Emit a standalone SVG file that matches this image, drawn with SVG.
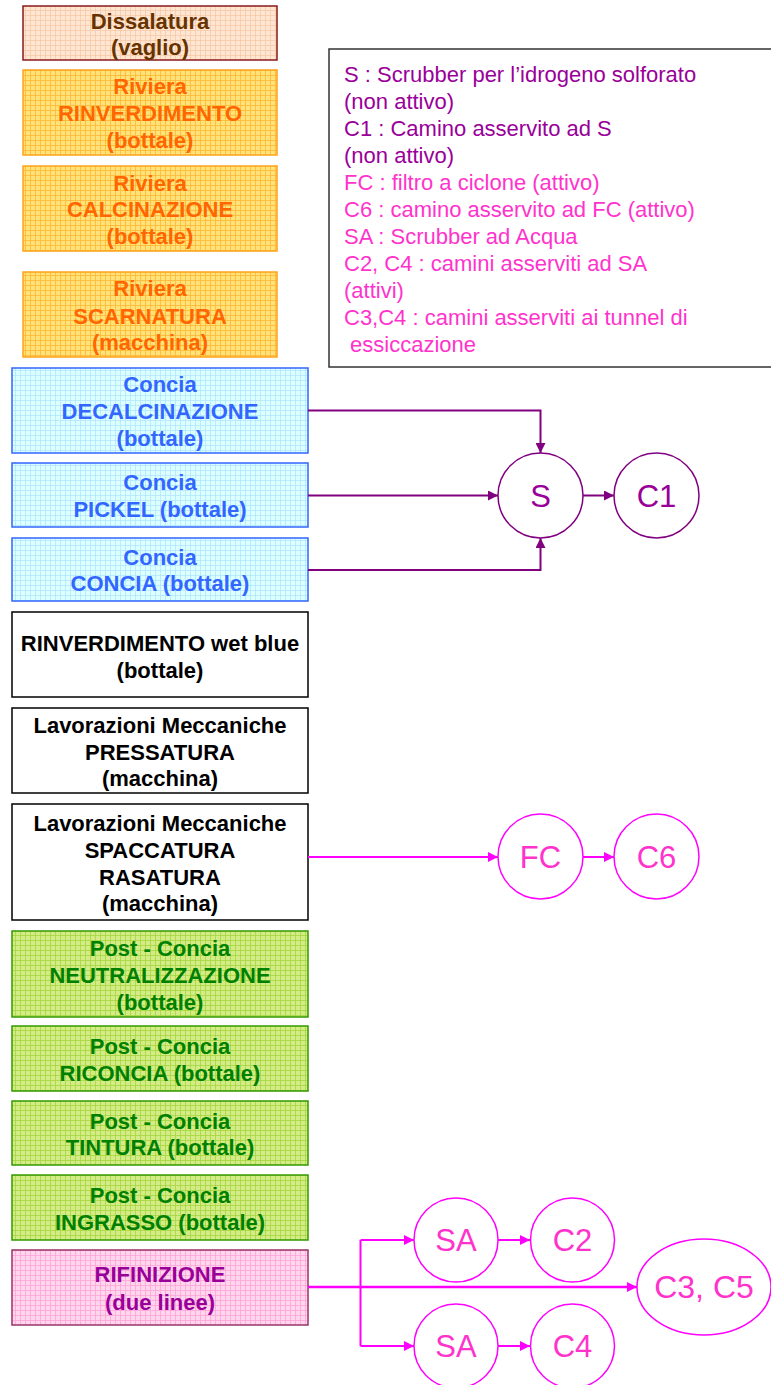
<svg xmlns="http://www.w3.org/2000/svg" width="771" height="1385" viewBox="0 0 771 1385">
<style>
.bt{font-family:"Liberation Sans",Arial,sans-serif;font-weight:bold;font-size:22px;text-anchor:middle}
.lg{font-family:"Liberation Sans",Arial,sans-serif;font-size:22px}
.ct{font-family:"Liberation Sans",Arial,sans-serif;font-size:31px;text-anchor:middle}
.pu{fill:#990099}
.pk{fill:#ff33cc}
.cs{fill:#fff;stroke:#800080;stroke-width:1.5}
.cf{fill:#fff;stroke:#ff00ff;stroke-width:1.5}
</style>
<defs>
<pattern id="gD" width="5" height="5" patternUnits="userSpaceOnUse"><rect width="5" height="5" fill="#ffe6d2"/><path d="M0 0.5H5M0.5 0V5" stroke="#f7c9a8" stroke-width="0.8"/></pattern>
<pattern id="gR" width="5" height="5" patternUnits="userSpaceOnUse"><rect width="5" height="5" fill="#ffe27a"/><path d="M0 0.5H5M0.5 0V5" stroke="#ffb733" stroke-width="0.8"/></pattern>
<pattern id="gC" width="5" height="5" patternUnits="userSpaceOnUse"><rect width="5" height="5" fill="#dcffff"/><path d="M0 0.5H5M0.5 0V5" stroke="#b3e6ff" stroke-width="0.8"/></pattern>
<pattern id="gP" width="5" height="5" patternUnits="userSpaceOnUse"><rect width="5" height="5" fill="#d4ec88"/><path d="M0 0.5H5M0.5 0V5" stroke="#a6d63c" stroke-width="0.8"/></pattern>
<pattern id="gF" width="5" height="5" patternUnits="userSpaceOnUse"><rect width="5" height="5" fill="#ffd6ee"/><path d="M0 0.5H5M0.5 0V5" stroke="#ffa3d6" stroke-width="0.8"/></pattern>
<marker id="aP" markerWidth="10" markerHeight="10" refX="10" refY="5" orient="auto" markerUnits="userSpaceOnUse"><path d="M0,0 L10,5 L0,10 z" fill="#800080"/></marker>
<marker id="aM" markerWidth="10" markerHeight="10" refX="10" refY="5" orient="auto" markerUnits="userSpaceOnUse"><path d="M0,0 L10,5 L0,10 z" fill="#ff00ff"/></marker>
</defs>

<g id="n-dissalatura"><rect x="23" y="6" width="254" height="54" fill="url(#gD)" stroke="#8b1a1a" stroke-width="1.5"/>
<text class="bt" fill="#663300"><tspan x="150" y="29">Dissalatura</tspan><tspan x="150" y="55">(vaglio)</tspan></text></g>

<g id="n-rinverdimento"><rect x="23" y="70" width="254" height="85" fill="url(#gR)" stroke="#ffa31a" stroke-width="1.5"/>
<text class="bt" fill="#ff6600"><tspan x="150" y="94">Riviera</tspan><tspan x="150" y="121">RINVERDIMENTO</tspan><tspan x="150" y="148">(bottale)</tspan></text></g>

<g id="n-calcinazione"><rect x="23" y="166" width="254" height="85" fill="url(#gR)" stroke="#ffa31a" stroke-width="1.5"/>
<text class="bt" fill="#ff6600"><tspan x="150" y="191">Riviera</tspan><tspan x="150" y="217">CALCINAZIONE</tspan><tspan x="150" y="244">(bottale)</tspan></text></g>

<g id="n-scarnatura"><rect x="23" y="272" width="254" height="85" fill="url(#gR)" stroke="#ffa31a" stroke-width="1.5"/>
<text class="bt" fill="#ff6600"><tspan x="150" y="296">Riviera</tspan><tspan x="150" y="324">SCARNATURA</tspan><tspan x="150" y="350">(macchina)</tspan></text></g>

<g id="n-decalcinazione"><rect x="12" y="368" width="296" height="85" fill="url(#gC)" stroke="#3366ff" stroke-width="1.5"/>
<text class="bt" fill="#3366ff"><tspan x="160" y="392">Concia</tspan><tspan x="160" y="419">DECALCINAZIONE</tspan><tspan x="160" y="446">(bottale)</tspan></text></g>

<g id="n-pickel"><rect x="12" y="463" width="296" height="64" fill="url(#gC)" stroke="#3366ff" stroke-width="1.5"/>
<text class="bt" fill="#3366ff"><tspan x="160" y="490">Concia</tspan><tspan x="160" y="517">PICKEL (bottale)</tspan></text></g>

<g id="n-concia"><rect x="12" y="538" width="296" height="63" fill="url(#gC)" stroke="#3366ff" stroke-width="1.5"/>
<text class="bt" fill="#3366ff"><tspan x="160" y="565">Concia</tspan><tspan x="160" y="591">CONCIA (bottale)</tspan></text></g>

<g id="n-wetblue"><rect x="12" y="612" width="296" height="85" fill="#fff" stroke="#000" stroke-width="1.5"/>
<text class="bt" fill="#000"><tspan x="160" y="651">RINVERDIMENTO wet blue</tspan><tspan x="160" y="678">(bottale)</tspan></text></g>

<g id="n-pressatura"><rect x="12" y="708" width="296" height="85" fill="#fff" stroke="#000" stroke-width="1.5"/>
<text class="bt" fill="#000"><tspan x="160" y="733">Lavorazioni Meccaniche</tspan><tspan x="160" y="760">PRESSATURA</tspan><tspan x="160" y="786">(macchina)</tspan></text></g>

<g id="n-spaccatura"><rect x="12" y="804" width="296" height="116" fill="#fff" stroke="#000" stroke-width="1.5"/>
<text class="bt" fill="#000"><tspan x="160" y="831">Lavorazioni Meccaniche</tspan><tspan x="160" y="858">SPACCATURA</tspan><tspan x="160" y="885">RASATURA</tspan><tspan x="160" y="911">(macchina)</tspan></text></g>

<g id="n-neutralizzazione"><rect x="12" y="931" width="296" height="86" fill="url(#gP)" stroke="#339900" stroke-width="1.5"/>
<text class="bt" fill="#008000"><tspan x="160" y="956">Post - Concia</tspan><tspan x="160" y="983">NEUTRALIZZAZIONE</tspan><tspan x="160" y="1010">(bottale)</tspan></text></g>

<g id="n-riconcia"><rect x="12" y="1026" width="296" height="65" fill="url(#gP)" stroke="#339900" stroke-width="1.5"/>
<text class="bt" fill="#008000"><tspan x="160" y="1054">Post - Concia</tspan><tspan x="160" y="1081">RICONCIA (bottale)</tspan></text></g>

<g id="n-tintura"><rect x="12" y="1101" width="296" height="64" fill="url(#gP)" stroke="#339900" stroke-width="1.5"/>
<text class="bt" fill="#008000"><tspan x="160" y="1129">Post - Concia</tspan><tspan x="160" y="1155">TINTURA (bottale)</tspan></text></g>

<g id="n-ingrasso"><rect x="12" y="1175" width="296" height="65" fill="url(#gP)" stroke="#339900" stroke-width="1.5"/>
<text class="bt" fill="#008000"><tspan x="160" y="1203">Post - Concia</tspan><tspan x="160" y="1230">INGRASSO (bottale)</tspan></text></g>

<g id="n-rifinizione"><rect x="12" y="1250" width="296" height="75" fill="url(#gF)" stroke="#993366" stroke-width="1.5"/>
<text class="bt" fill="#990099"><tspan x="160" y="1282">RIFINIZIONE</tspan><tspan x="160" y="1310">(due linee)</tspan></text></g>

<g id="legend"><rect x="329" y="49" width="450" height="318" fill="#fff" stroke="#333" stroke-width="1.5"/>
<text class="lg"><tspan class="pu" x="344" y="82">S : Scrubber per l’idrogeno solforato</tspan><tspan class="pu" x="344" y="109">(non attivo)</tspan><tspan class="pu" x="344" y="136">C1 : Camino asservito ad S</tspan><tspan class="pu" x="344" y="163">(non attivo)</tspan><tspan class="pk" x="344" y="190">FC : filtro a ciclone (attivo)</tspan><tspan class="pk" x="344" y="217">C6 : camino asservito ad FC (attivo)</tspan><tspan class="pk" x="344" y="244">SA : Scrubber ad Acqua</tspan><tspan class="pk" x="344" y="271">C2, C4 : camini asserviti ad SA</tspan><tspan class="pk" x="344" y="298">(attivi)</tspan><tspan class="pk" x="344" y="325">C3,C4 : camini asserviti ai tunnel di</tspan><tspan class="pk" x="344" y="352"> essiccazione</tspan></text></g>

<g id="connectors" fill="none">
<path d="M308 410.5H540.5V453" stroke="#800080" stroke-width="2" marker-end="url(#aP)"/>
<path d="M308 495.5H498" stroke="#800080" stroke-width="2" marker-end="url(#aP)"/>
<path d="M308 570H540.5V538" stroke="#800080" stroke-width="2" marker-end="url(#aP)"/>
<path d="M583 495.5H614" stroke="#800080" stroke-width="2" marker-end="url(#aP)"/>
<path d="M308 857H498" stroke="#ff00ff" stroke-width="2" marker-end="url(#aM)"/>
<path d="M583 857H614" stroke="#ff00ff" stroke-width="2" marker-end="url(#aM)"/>
<path d="M308 1287H637" stroke="#ff00ff" stroke-width="2.5" marker-end="url(#aM)"/>
<path d="M360.5 1240V1346" stroke="#ff00ff" stroke-width="2"/>
<path d="M360.5 1240H414" stroke="#ff00ff" stroke-width="2" marker-end="url(#aM)"/>
<path d="M360.5 1346H414" stroke="#ff00ff" stroke-width="2" marker-end="url(#aM)"/>
<path d="M498 1240H530" stroke="#ff00ff" stroke-width="2" marker-end="url(#aM)"/>
<path d="M498 1346H530" stroke="#ff00ff" stroke-width="2" marker-end="url(#aM)"/>
</g>

<g id="n-S"><circle cx="540.5" cy="495.5" r="42.5" class="cs"/><text class="ct pu" x="540.5" y="507">S</text></g>
<g id="n-C1"><circle cx="656.5" cy="495.5" r="42.5" class="cs"/><text class="ct pu" x="656.5" y="507">C1</text></g>
<g id="n-FC"><circle cx="540.5" cy="856.5" r="42.5" class="cf"/><text class="ct pk" x="540.5" y="868">FC</text></g>
<g id="n-C6"><circle cx="656.5" cy="856.5" r="42.5" class="cf"/><text class="ct pk" x="656.5" y="868">C6</text></g>
<g id="n-SA1"><circle cx="456" cy="1240" r="42" class="cf"/><text class="ct pk" x="456" y="1251">SA</text></g>
<g id="n-C2"><circle cx="572.5" cy="1240" r="42" class="cf"/><text class="ct pk" x="572.5" y="1251">C2</text></g>
<g id="n-SA2"><circle cx="456" cy="1346" r="42" class="cf"/><text class="ct pk" x="456" y="1357">SA</text></g>
<g id="n-C4"><circle cx="572.5" cy="1346" r="42" class="cf"/><text class="ct pk" x="572.5" y="1357">C4</text></g>
<g id="n-C3C5"><ellipse cx="704" cy="1287" rx="67" ry="48" class="cf"/><text class="ct pk" x="704" y="1298" style="font-size:32px">C3, C5</text></g>
</svg>
